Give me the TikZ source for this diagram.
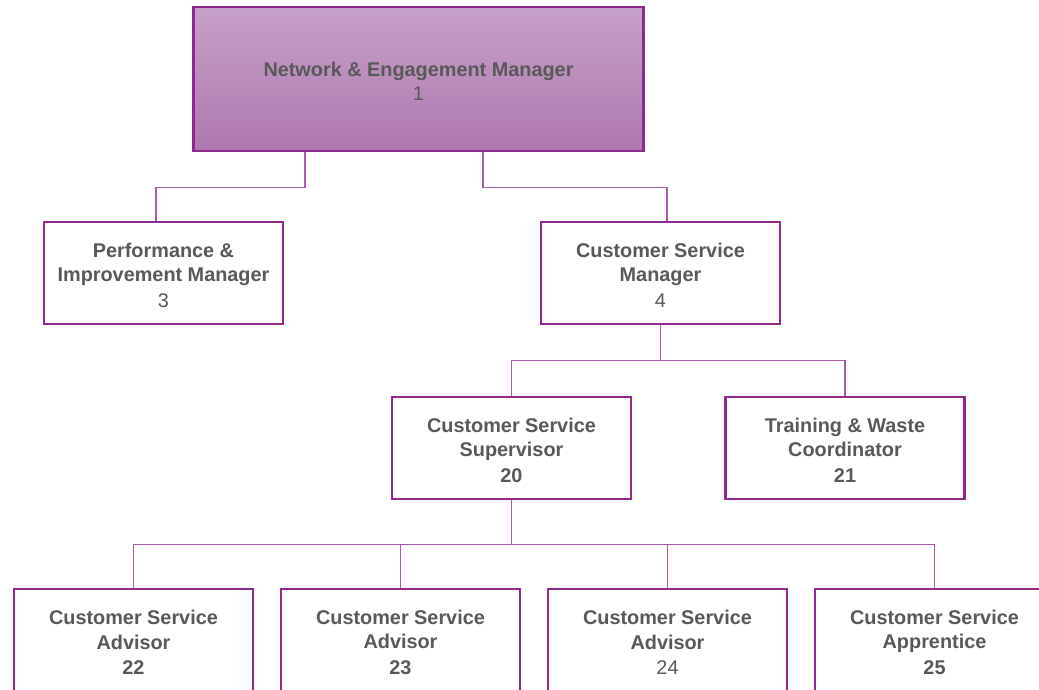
\documentclass[tikz,border=0pt]{standalone}
\usepackage{fontspec}
\setmainfont{Liberation Sans}
\definecolor{orgline}{HTML}{8E2A8E}
\definecolor{orglink}{HTML}{A65AA8}
\definecolor{orgtext}{HTML}{595959}
\definecolor{headtop}{HTML}{C6A0C8}
\definecolor{headbot}{HTML}{AF78AF}

\begin{document}
\begin{tikzpicture}[x=0.02cm,y=-0.02cm]
\tikzstyle{every node}+=[inner sep=0pt]
\tikzstyle{post}=[draw=orgline, line width=1.4pt, fill=white, align=center, text=orgtext,
  font=\fontsize{11.3}{13.7}\selectfont\bfseries, minimum width=4.78cm, minimum height=2.04cm]
\tikzstyle{headpost}=[post, top color=headtop, bottom color=headbot, minimum width=9.01cm, minimum height=2.88cm]
\tikzstyle{link}=[draw=orglink, line width=0.7pt]
\useasboundingbox (0,0) rectangle (1039,690);
\clip (0,0) rectangle (1039,690);
% boxes
\node [headpost] (boss) at (418.5,79) {\rule{0pt}{11pt}Network \& Engagement Manager\\\mdseries 1};
\node [post] (perf) at (163.5,273) {\rule{0pt}{11pt}Performance \&\\Improvement Manager\\[1pt]\mdseries 3};
\node [post] (csm) at (660.5,273) {\rule{0pt}{11pt}Customer Service\\Manager\\[1pt]\mdseries 4};
\node [post] (sup) at (511.5,448) {\rule{0pt}{11pt}Customer Service\\Supervisor\\[1pt]20};
\node [post] (twc) at (845,448) {\rule{0pt}{11pt}Training \& Waste\\Coordinator\\[1pt]21};
% bottom row runs off the page edge
\node [post, anchor=north] (adv22) at (133.5,588) {\rule{0pt}{11pt}Customer Service\\Advisor\\[1pt]22};
\node [post, anchor=north] (adv23) at (400.5,588) {\rule{0pt}{11pt}Customer Service\\Advisor\\[1pt]23};
\node [post, anchor=north] (adv24) at (667.5,588) {\rule{0pt}{11pt}Customer Service\\Advisor\\[1pt]\mdseries 24};
\node [post, anchor=north] (app25) at (934.5,588) {\rule{0pt}{11pt}Customer Service\\Apprentice\\[1pt]25};
% links
\draw [link] ([xshift=-2.27cm]boss.south) -- ++(0,35) -| ([xshift=-0.15cm]perf.north);
\draw [link] ([xshift=1.29cm]boss.south) -- ++(0,35) -| ([xshift=0.13cm]csm.north);
\draw [link] (csm.south) -- ++(0,35) -| (sup.north);
\draw [link] (csm.south) ++(0,35) -| (twc.north);
\draw [link] (sup.south) -- ++(0,44) -| (adv22.north);
\draw [link] (sup.south) ++(0,44) -| (adv23.north);
\draw [link] (sup.south) ++(0,44) -| (adv24.north);
\draw [link] (sup.south) ++(0,44) -| (app25.north);
\end{tikzpicture}
\end{document}
